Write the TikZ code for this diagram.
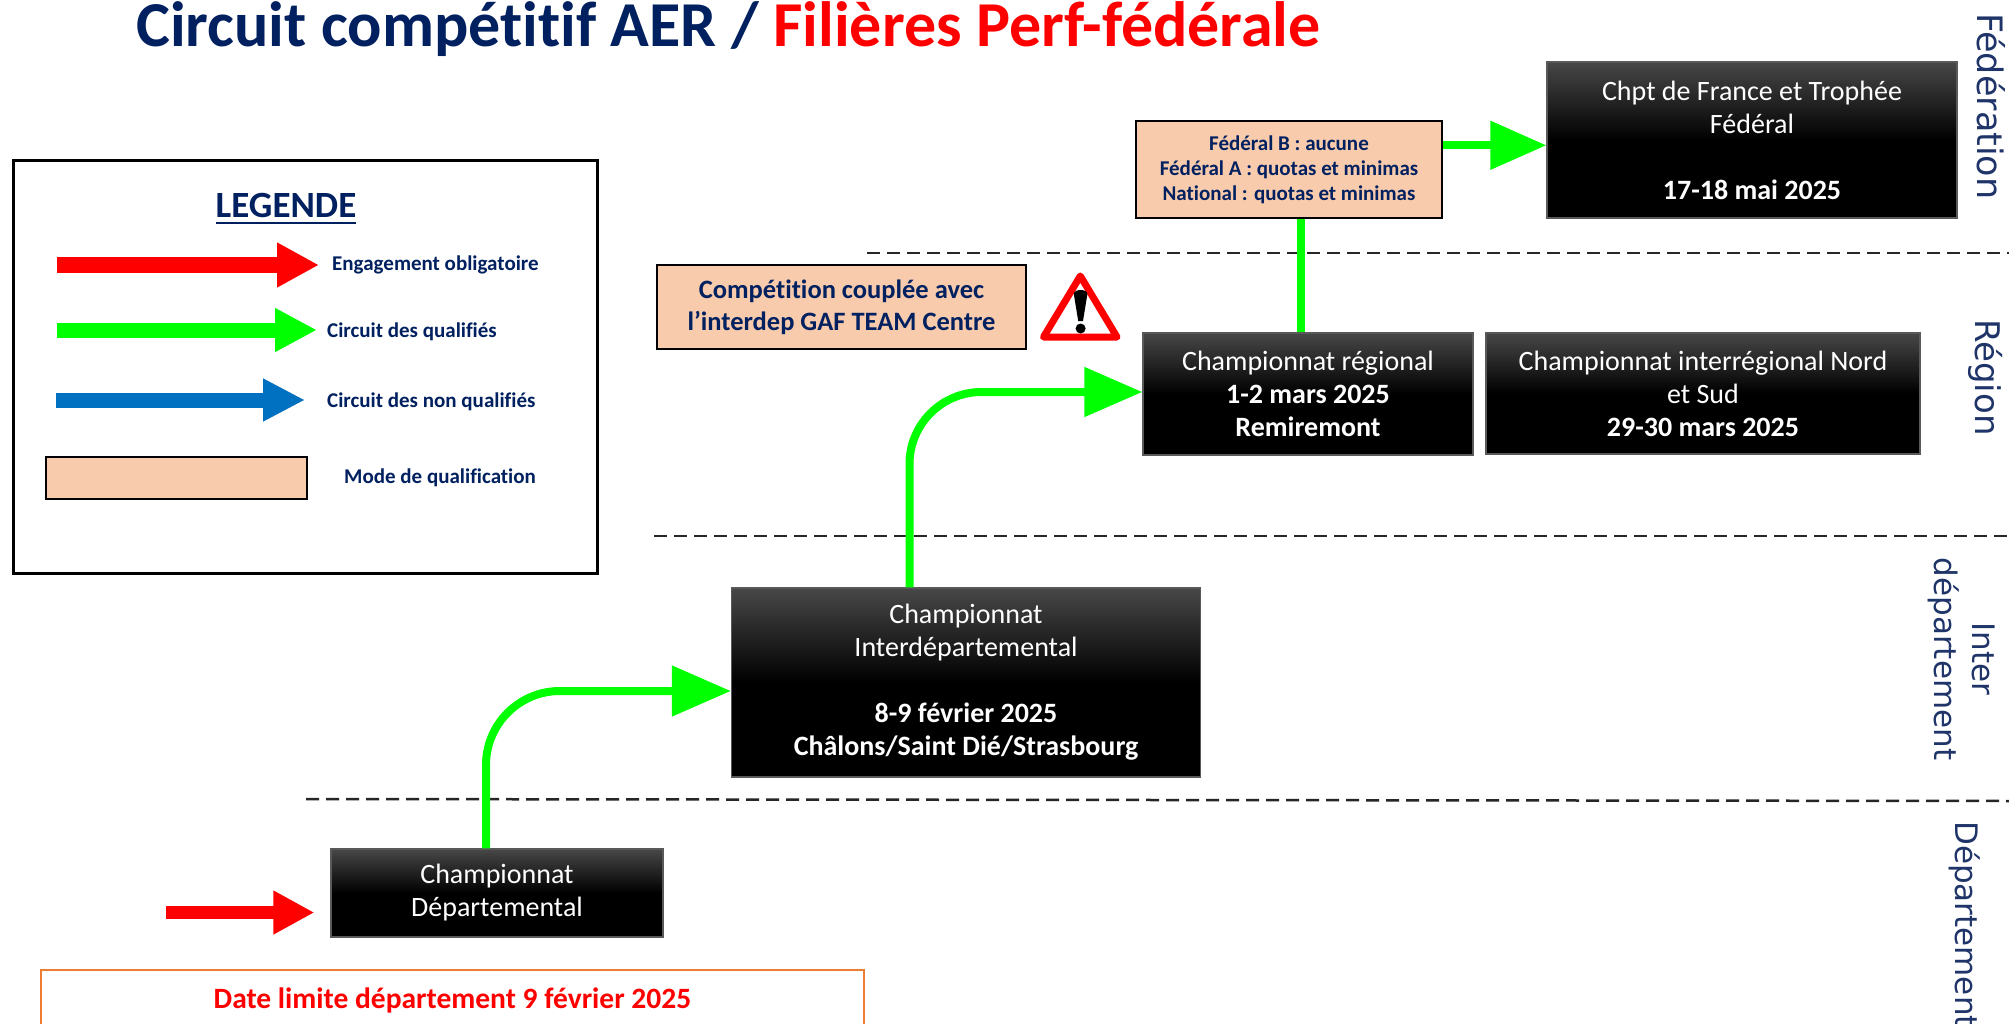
\documentclass[tikz,border=0pt]{standalone}
\usepackage{fontspec}
\setmainfont{Carlito}[Ligatures=CommonOff]
\newfontfamily\vfont{DejaVu Sans}
\usetikzlibrary{arrows.meta,calc}
\definecolor{navy}{HTML}{002060}
\definecolor{labelnavy}{HTML}{1F3468}
\definecolor{peach}{HTML}{F8CBAD}
\definecolor{brightgreen}{HTML}{00FF00}
\definecolor{arrowblue}{HTML}{0070C0}
\definecolor{orangeb}{HTML}{ED7D31}
\definecolor{pured}{HTML}{FF0000}
\begin{document}
\begin{tikzpicture}[x=1pt,y=-1pt,
  blackbox/.style={rectangle, draw=black!65, line width=1.2pt, top color=black!72, bottom color=black, middle color=black, text=white, align=center, inner sep=0pt, font=\fontsize{28}{33}\selectfont},
  peachbox/.style={rectangle, draw=black, line width=2pt, fill=peach, text=navy, align=center, inner sep=0pt},
  lvl/.style={draw=black!85, line width=2.5pt, dash pattern=on 13pt off 7pt},
  greenlink/.style={draw=brightgreen, line width=8pt},
  legtext/.style={anchor=base west, inner sep=0pt, text=navy, font=\bfseries\fontsize{21}{25}\selectfont},
  vlabel/.style={rotate=-90, inner sep=0pt, text=labelnavy, font=\vfont\fontsize{33}{40}\selectfont}
]
\fill[white] (0,0) rectangle (2009,1024);
\useasboundingbox (0,0) rectangle (2009,1024);

% title
\node[anchor=base west, inner sep=0pt, font=\bfseries\fontsize{64}{72}\selectfont] (title) at (136,47)
  {\textcolor{navy}{Circuit compétitif AER / }\textcolor{pured}{Filières Perf-fédérale}};

% level separators
\draw[lvl] (867,253) -- (2009,253);
\draw[lvl] (654,536) -- (2009,536);
\draw[lvl] (306,799) -- (2009,801);

% level labels
\node[vlabel, anchor=base west, font=\vfont\fontsize{35}{40}\selectfont] (lfed) at (1977,13) {Fédération};
\node[vlabel, anchor=base west, font=\vfont\fontsize{34}{40}\selectfont] (lreg) at (1975,319) {Région};
\node[vlabel, align=center, font=\vfont\fontsize{31}{38}\selectfont] (lidep) at (1961.7,659) {Inter\\département};
\node[vlabel, anchor=base west, font=\vfont\fontsize{31}{38}\selectfont] (ldep) at (1955,821) {Département};

% legend
\draw[black, line width=3pt] (13,161) rectangle (597,573);
\node[anchor=base, inner sep=0pt, text=navy, font=\bfseries\fontsize{37}{44}\selectfont] (legt) at (286,218) {LEGENDE};
\draw[navy, line width=2.5pt] ([yshift=-5pt]legt.base west) -- ([yshift=-5pt]legt.base east);
\draw[pured, line width=15pt, -{Triangle[length=42pt,width=42pt]}] (57,265) -- (319,265);
\draw[brightgreen, line width=15pt, -{Triangle[length=42pt,width=41pt]}] (57,330) -- (317,330);
\draw[arrowblue, line width=15pt, -{Triangle[length=42pt,width=40pt]}] (56,400) -- (305,400);
\draw[fill=peach, line width=2pt] (46,457) rectangle (307,499);
\node[legtext] (l1) at (332,270) {Engagement obligatoire};
\node[legtext] (l2) at (327,337.5) {Circuit des qualifiés};
\node[legtext] (l3) at (327,407) {Circuit des non qualifiés};
\node[legtext] (l4) at (344,483) {Mode de qualification};

% boxes
\node[blackbox, minimum width=410pt, minimum height=156pt] (chpt) at (1752,140)
  {Chpt de France et Trophée\\Fédéral\\[33pt]\textbf{17-18 mai 2025}};
\node[peachbox, minimum width=306pt, minimum height=97pt, font=\bfseries\fontsize{21}{25}\selectfont] (fedq) at (1289,170)
  {Fédéral B : aucune\\Fédéral A : quotas et minimas\\National : quotas et minimas};
\node[peachbox, minimum width=369pt, minimum height=84pt, font=\bfseries\fontsize{26.5}{32}\selectfont] (comp) at (841.5,307)
  {Compétition couplée avec\\l’interdep GAF TEAM Centre};
\node[blackbox, minimum width=330pt, minimum height=122pt] (reg) at (1308,394)
  {Championnat régional\\\textbf{1-2 mars 2025}\\\textbf{Remiremont}};
\node[blackbox, minimum width=434pt, minimum height=121pt] (ireg) at (1703,393.5)
  {Championnat interrégional Nord\\et Sud\\\textbf{29-30 mars 2025}};
\node[blackbox, minimum width=469pt, minimum height=189pt] (idep) at (966,682.5)
  {Championnat\\Interdépartemental\\[33pt]\textbf{8-9 février 2025}\\\textbf{Châlons/Saint Dié/Strasbourg}};
\node[blackbox, minimum width=332pt, minimum height=88pt] (dept) at (497,893)
  {Championnat\\Départemental};
\node[rectangle, draw=orangeb, line width=2.5pt, fill=white, minimum width=823pt, minimum height=60pt, inner sep=0pt, text=pured, font=\bfseries\fontsize{29.5}{34}\selectfont] (date) at (452.5,1000)
  {Date limite département 9 février 2025};

% warning sign
\draw[pured, line width=7pt, line join=round, fill=white] (1080.3,276) -- (1117,337) -- (1043.5,337) -- cycle;
\fill[black] (1073.8,294) to[out=90,in=90] (1087.4,294) -- (1083,321) -- (1078.2,321) -- cycle;
\fill[black] (1080.6,328.5) circle (5pt);

% connectors
\coordinate (redstart) at (166,912.5);
\draw[pured, line width=13pt, -{Triangle[length=41pt,width=41pt]}] (redstart) -- ($(dept.west)+(-16,19.5)$);
\draw[greenlink, rounded corners=74pt, -{Triangle[length=59pt,width=49pt]}] ($(dept.north)+(-11,0)$) |- ($(idep.west)+(0,8.5)$);
\draw[greenlink, rounded corners=72pt, -{Triangle[length=58pt,width=48pt]}] ($(idep.north)+(-56.5,0)$) |- ($(reg.west)+(0,-2)$);
\coordinate (vx) at ($(reg.north)+(-7.3,0)$);
\draw[greenlink] (vx) -- (vx |- fedq.south);
\coordinate (hx) at ($(fedq.east)+(0,-24.7)$);
\draw[greenlink, -{Triangle[length=56pt,width=47pt]}] (hx) -- (hx -| chpt.west);
\end{tikzpicture}
\end{document}
